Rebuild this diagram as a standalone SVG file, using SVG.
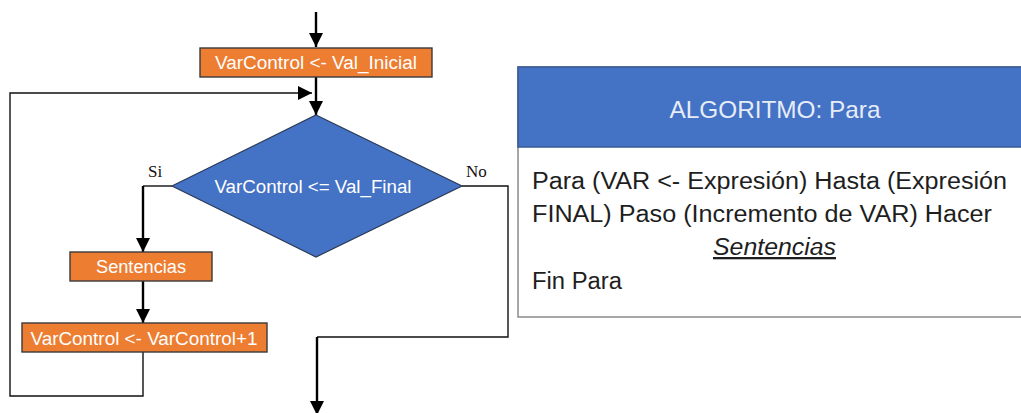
<svg xmlns="http://www.w3.org/2000/svg" width="1021" height="413" viewBox="0 0 1021 413">
  <defs>
    <style>
      .proc { fill: #ED7D31; stroke: #3a3a3a; stroke-width: 1.4; }
      .cond { fill: #4472C4; stroke: #2b3a57; stroke-width: 1.2; }
      .lbl { font-family: "Liberation Sans", Arial, sans-serif; font-size: 18px; fill: #ffffff; text-anchor: middle; }
      .branch { font-family: "Liberation Serif", "Times New Roman", serif; font-size: 17px; fill: #111111; }
      .flow { fill: none; stroke: #000000; stroke-width: 2.4; }
      .thin { fill: none; stroke: #111111; stroke-width: 1.4; }
      .head { font-family: "Liberation Sans", Arial, sans-serif; font-size: 24px; fill: #e6edf8; text-anchor: middle; }
      .body { font-family: "Liberation Sans", Arial, sans-serif; font-size: 23px; fill: #1e1e1e; }
    </style>
    <marker id="arrow" viewBox="0 0 14 14" refX="14" refY="7" markerWidth="14" markerHeight="14" markerUnits="userSpaceOnUse" orient="auto">
      <path d="M0,0 L14,7 L0,14 Z" fill="#000000"/>
    </marker>
  </defs>

  <!-- connectors -->
  <g id="connectors">
    <path class="flow" d="M316,12 V47" marker-end="url(#arrow)"/>
    <path class="flow" d="M316,77 V115" marker-end="url(#arrow)"/>
    <path class="thin" d="M143,352 V396 H10 V93 H312" marker-end="url(#arrow)"/>
    <path class="thin" d="M172,186 H143"/>
    <path class="flow" d="M143,186 V252" marker-end="url(#arrow)"/>
    <path class="flow" d="M143,281 V323" marker-end="url(#arrow)"/>
    <path class="thin" d="M462,186 H508 V337 H317"/>
    <path class="flow" d="M317,337 V415" marker-end="url(#arrow)"/>
  </g>

  <!-- initialisation -->
  <g id="init">
    <rect class="proc" x="200" y="48" width="232" height="29"/>
    <text class="lbl" x="316" y="69" textLength="202" lengthAdjust="spacingAndGlyphs">VarControl &lt;- Val_Inicial</text>
  </g>

  <!-- loop condition -->
  <g id="condition">
    <polygon class="cond" points="316,115 462,186 316,257 172,186"/>
    <text class="lbl" x="313" y="193" textLength="197" lengthAdjust="spacingAndGlyphs">VarControl &lt;= Val_Final</text>
    <text class="branch" x="148" y="177">Si</text>
    <text class="branch" x="466" y="177">No</text>
  </g>

  <!-- loop body -->
  <g id="body">
    <rect class="proc" x="70" y="252" width="142" height="29"/>
    <text class="lbl" x="141" y="273" textLength="90" lengthAdjust="spacingAndGlyphs">Sentencias</text>
  </g>

  <!-- increment -->
  <g id="increment">
    <rect class="proc" x="22" y="323" width="245" height="29"/>
    <text class="lbl" x="144" y="345" textLength="227" lengthAdjust="spacingAndGlyphs">VarControl &lt;- VarControl+1</text>
  </g>

  <!-- pseudocode panel -->
  <g id="pseudocode">
    <rect x="518" y="67" width="520" height="250" fill="#ffffff" stroke="#8a8a8a" stroke-width="1.5"/>
    <rect x="518" y="67" width="520" height="80" fill="#4472C4" stroke="#3a5a96" stroke-width="1.5"/>
    <text class="head" x="775" y="118" textLength="211" lengthAdjust="spacingAndGlyphs">ALGORITMO: Para</text>
    <text class="body" x="532" y="189" textLength="475" lengthAdjust="spacingAndGlyphs">Para (VAR &lt;- Expresión) Hasta (Expresión</text>
    <text class="body" x="532" y="222" textLength="460" lengthAdjust="spacingAndGlyphs">FINAL) Paso (Incremento de VAR) Hacer</text>
    <text class="body" x="713" y="255" textLength="123" lengthAdjust="spacingAndGlyphs" font-style="italic" text-decoration="underline">Sentencias</text>
    <text class="body" x="532" y="289" textLength="90" lengthAdjust="spacingAndGlyphs">Fin Para</text>
  </g>
</svg>
